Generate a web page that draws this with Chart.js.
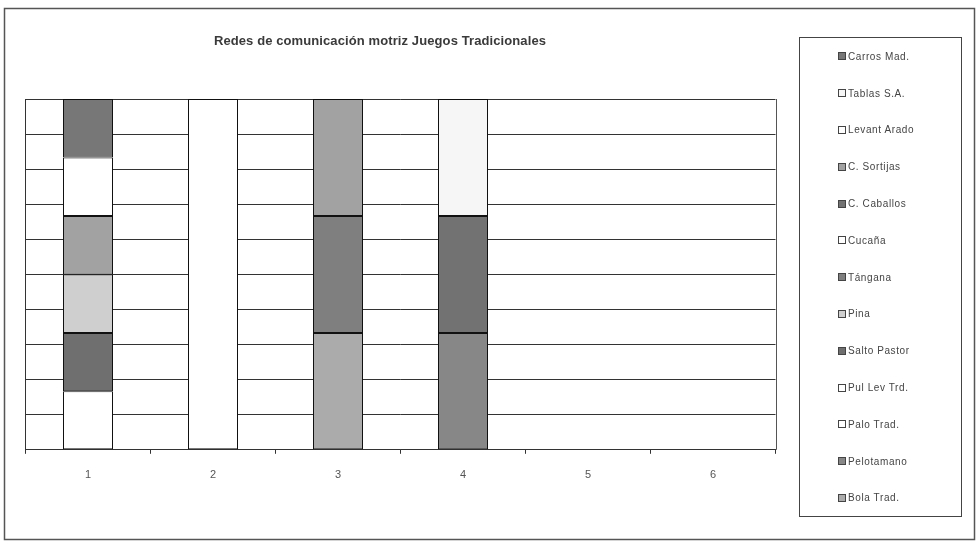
<!DOCTYPE html>
<html>
<head>
<meta charset="utf-8">
<script src="https://cdn.jsdelivr.net/npm/chart.js@4.4.1/dist/chart.umd.min.js"></script>
<style>
html,body{margin:0;padding:0;background:#fff;}
#wrap{position:relative;width:978px;height:544px;font-family:"Liberation Sans",Arial,sans-serif;}
#chart{position:absolute;left:0;top:0;}
#title{position:absolute;left:0;width:760px;top:33px;text-align:center;font-weight:bold;font-size:13px;color:#3a3a3a;letter-spacing:0.1px;}
#legend{position:absolute;left:799px;top:37px;width:161px;height:478px;border:1px solid #444;}
.item{height:36.8px;display:flex;align-items:center;padding-left:38px;font-size:10px;color:#444;letter-spacing:.6px;white-space:nowrap;}
.sw{width:8px;height:8px;border:1px solid #444;box-sizing:border-box;margin-right:2px;flex:none;}
</style>
</head>
<body>
<div id="wrap">
  <canvas id="chart" width="978" height="544"></canvas>
  <div id="title">Redes de comunicación motriz Juegos Tradicionales</div>
  <div id="legend"></div>
</div>
<script>
// categories on the x axis
const categories = ["1","2","3","4","5","6"];

// series, bottom of the stack first (Excel draws the legend reversed)
const seriesNames = ["Bola Trad.","Pelotamano","Palo Trad.","Pul Lev Trd.","Salto Pastor","Pina","Tángana","Cucaña","C. Caballos","C. Sortijas","Levant Arado","Tablas S.A.","Carros Mad."];

// share of each column (100% stacked)
const bolaTrad    = [null, null, 33.33, null, null, null];
const pelotamano  = [null, null, null, 33.33, null, null];
const paloTrad    = [null, 100, null, null, null, null];
const pulLevTrd   = [16.67, null, null, null, null, null];
const saltoPastor = [16.66, null, null, null, null, null];
const pina        = [16.67, null, null, null, null, null];
const tangana     = [null, null, 33.34, null, null, null];
const cucana      = [null, null, null, null, null, null];
const cCaballos   = [null, null, null, 33.34, null, null];
const cSortijas   = [16.67, null, 33.33, null, null, null];
const levantArado = [16.66, null, null, null, null, null];
const tablasSA    = [null, null, null, 33.33, null, null];
const carrosMad   = [16.67, null, null, null, null, null];

const seriesValues = [bolaTrad, pelotamano, paloTrad, pulLevTrd, saltoPastor, pina, tangana, cucana, cCaballos, cSortijas, levantArado, tablasSA, carrosMad];
const seriesColors = ["#ababab","#878787","#ffffff","#ffffff","#6f6f6f","#cfcfcf","#7f7f7f","#ffffff","#727272","#a2a2a2","#ffffff","#f6f6f6","#777777"];

const frame = {
  id:"frame",
  beforeDraw(chart){
    const c = chart.ctx;
    c.save();
    c.fillStyle="#fff";
    c.fillRect(0,0,chart.width,chart.height);
    c.strokeStyle="#555";
    c.lineWidth=1.5;
    c.strokeRect(4.5,8.5,970,531);
    c.restore();
  },
  afterDatasetsDraw(chart){
    const a = chart.chartArea, c = chart.ctx;
    c.save();
    c.strokeStyle="#555";
    c.lineWidth=1;
    c.beginPath();
    c.moveTo(Math.round(a.right)+0.5,a.top);
    c.lineTo(Math.round(a.right)+0.5,a.bottom);
    c.stroke();
    c.restore();
  }
};

const datasets = seriesNames.map((name,i)=>({
  label:name,
  data:seriesValues[i],
  backgroundColor:seriesColors[i],
  borderColor:"#111",
  borderWidth:1,
  borderSkipped:false,
  categoryPercentage:1,
  barPercentage:0.4
}));

const chart = new Chart(document.getElementById("chart"), {
  type:"bar",
  data:{ labels:categories, datasets },
  options:{
    responsive:false,
    animation:false,
    devicePixelRatio:1,
    layout:{ padding:{ left:25.5, top:99, right:202.5, bottom:47 } },
    plugins:{ legend:{ display:false }, tooltip:{ enabled:false }, title:{ display:false } },
    scales:{
      x:{
        stacked:true,
        offset:true,
        grid:{ drawOnChartArea:false, drawTicks:true, tickLength:4, color:"#333" },
        border:{ display:true, color:"#333" },
        ticks:{ maxRotation:0, padding:15, color:"#555", font:{ family:"'Liberation Sans', Arial", size:11 } }
      },
      y:{
        stacked:true,
        min:0, max:100,
        ticks:{ display:false, stepSize:10 },
        grid:{ color:"#333", drawTicks:false },
        border:{ display:true, color:"#333" }
      }
    }
  },
  plugins:[frame]
});

// legend box, top entry = last series, as in the picture
const items = chart.data.datasets.map((d,i)=>({ text:d.label, color:d.backgroundColor })).reverse();
document.getElementById("legend").innerHTML = items.map(it =>
  `<div class="item"><span class="sw" style="background:${it.color}"></span>${it.text}</div>`
).join("");
</script>
</body>
</html>
